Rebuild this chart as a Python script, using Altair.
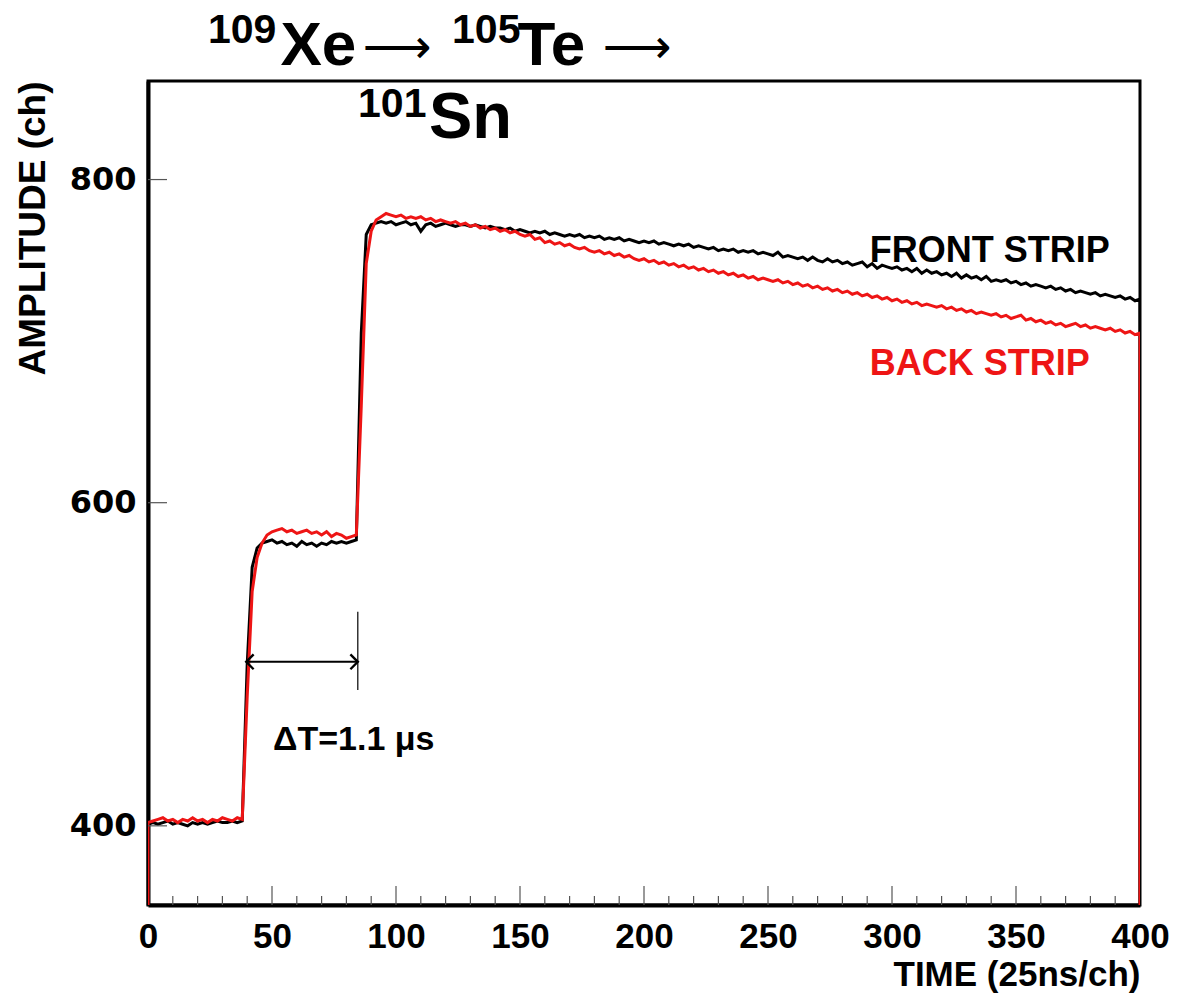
import altair as alt
import pandas as pd

# ---------------- data ----------------
Y_DOMAIN = [351, 861]
X_DOMAIN = [0, 400]

# channel numbers for the traces
TIME_CH = [0, 0] + list(range(2, 401, 2)) + [400]

FRONT_VALUES = (
    [345, 401]
    # t 2..38
    + [402, 401, 402, 403, 401, 402, 401, 400, 402, 401, 402, 401, 402, 403, 402, 402, 403, 402, 403]
    # t 40..46 (first step)
    + [500, 560, 572, 575]
    # t 48..84
    + [576, 577, 575, 576, 574, 575, 573, 576, 574, 575, 573, 575, 574, 576, 575, 576, 575, 576, 577]
    # t 86..88 (second step)
    + [705, 766]
    # t 90..140
    + [772, 773, 774, 773, 774, 772, 773, 774, 772, 773, 768, 772, 773, 771, 772, 773, 772, 771, 772, 772,
       771, 772, 771, 770, 771, 770]
    # t 142..400
    + [770, 769, 770, 768, 769, 768, 767, 768, 767, 768,
       766, 767, 766, 765, 766, 765, 766, 764, 765, 764,
       765, 763, 764, 763, 764, 762, 763, 762, 761, 762,
       761, 762, 760, 761, 760, 759, 760, 759, 760, 758,
       759, 758, 757, 758, 756, 757, 756, 757, 755, 756,
       755, 756, 754, 755, 754, 753, 755, 752, 753, 752,
       751, 752, 750, 752, 750, 749, 751, 749, 750, 748,
       749, 747, 748, 749, 746, 748, 745, 747, 746, 745,
       746, 744, 745, 743, 745, 742, 744, 742, 743, 741,
       742, 740, 742, 739, 741, 739, 740, 738, 740, 737,
       738, 737, 738, 736, 737, 735, 736, 734, 735, 734,
       733, 734, 732, 733, 731, 732, 730, 731, 730, 729,
       730, 728, 729, 728, 727, 728, 726, 727, 725, 726]
    + [340]
)

BACK_VALUES = (
    [345, 402]
    # t 2..38
    + [403, 404, 405, 403, 404, 402, 404, 403, 405, 403, 404, 402, 404, 403, 405, 404, 403, 405, 404]
    # t 40..46
    + [480, 545, 566, 575]
    # t 48..84
    + [580, 582, 583, 584, 582, 583, 581, 582, 583, 581, 582, 580, 582, 579, 581, 580, 578, 579, 580]
    # t 86..92
    + [660, 748, 768, 775]
    # t 94..140
    + [777, 779, 778, 777, 778, 776, 777, 776, 777, 775, 776, 774, 775, 774, 773, 774, 772, 773, 771, 772,
       770, 771, 769, 770]
    # t 142..400
    + [768, 769, 767, 768, 766, 765, 766, 763, 764, 761,
       762, 760, 761, 759, 760, 758, 757, 758, 756, 755,
       756, 754, 755, 753, 754, 752, 753, 751, 750, 751,
       749, 750, 748, 749, 747, 748, 746, 747, 745, 746,
       744, 745, 743, 744, 742, 743, 741, 742, 740, 741,
       739, 740, 738, 739, 738, 737, 738, 736, 737, 735,
       736, 734, 735, 733, 734, 732, 733, 731, 732, 730,
       731, 729, 730, 728, 729, 727, 728, 726, 727, 725,
       726, 724, 725, 723, 724, 722, 723, 722, 721, 722,
       720, 721, 719, 720, 718, 719, 717, 718, 717, 716,
       717, 715, 716, 714, 715, 716, 713, 714, 712, 713,
       711, 712, 710, 711, 709, 710, 711, 709, 710, 708,
       709, 708, 707, 708, 706, 707, 705, 706, 704, 705]
    + [340]
)

assert len(FRONT_VALUES) == len(TIME_CH), (len(FRONT_VALUES), len(TIME_CH))
assert len(BACK_VALUES) == len(TIME_CH), (len(BACK_VALUES), len(TIME_CH))

X_LABEL_VALUES = [0, 50, 100, 150, 200, 250, 300, 350, 400]
Y_LABEL_VALUES = [400, 600, 800]
X_MAJOR_TICKS = [50, 100, 150, 200, 250, 300, 350]
X_MINOR_TICKS = [t for t in range(10, 400, 10) if t % 50 != 0]

# annotation texts (positions in data units)
TITLE_BIG = [
    {"text": "Xe", "x": 53.4, "y": 870.9},
    {"text": "Te", "x": 149.0, "y": 870.9},
]
TITLE_SN = [
    {"text": "Sn", "x": 113.3, "y": 825.7},
]
TITLE_SUP = [
    {"text": "109", "x": 24.2, "y": 884.5},
    {"text": "105", "x": 122.6, "y": 884.5},
    {"text": "101", "x": 84.7, "y": 838.7},
]
TITLE_ARROWS = [
    {"text": "\u27f6", "x": 86.5, "y": 872.0},
    {"text": "\u27f6", "x": 183.3, "y": 872.0},
]
FRONT_LABEL = {"text": "FRONT STRIP", "x": 291.0, "y": 749.0}
BACK_LABEL = {"text": "BACK STRIP", "x": 291.0, "y": 679.0}
DT_LABEL = {"text": "\u0394T=1.1 \u03bcs", "x": 50.4, "y": 447.0}
ARROW = {"x1": 39.6, "x2": 84.6, "y": 501.5, "vy1": 484.0, "vy2": 532.5}

RED = "#ee1515"

# ---------------- chart ----------------
xs = alt.Scale(domain=X_DOMAIN, nice=False, zero=False)
ys = alt.Scale(domain=Y_DOMAIN, nice=False, zero=False)

df_front = pd.DataFrame({"t": TIME_CH, "v": FRONT_VALUES})
df_back = pd.DataFrame({"t": TIME_CH, "v": BACK_VALUES})

x_axis = alt.Axis(
    values=X_LABEL_VALUES, title="TIME (25ns/ch)", titleAnchor="end",
    labelFont="Liberation Sans", labelFontWeight="bold", labelFontSize=35, labelColor="black",
    titleFont="Liberation Sans", titleFontWeight="bold", titleFontSize=35, titleColor="black",
    ticks=False, domainColor="black", domainWidth=4, grid=False,
    labelPadding=14, titlePadding=3, labelFlush=False, labelOverlap=False,
)
y_axis = alt.Axis(
    values=Y_LABEL_VALUES, title="AMPLITUDE (ch)", titleAnchor="end",
    labelFont="DejaVu Sans", labelFontWeight="bold", labelFontSize=32, labelColor="black",
    titleFont="Liberation Sans", titleFontWeight="bold", titleFontSize=37, titleColor="black",
    ticks=False, domainColor="black", domainWidth=4, grid=False,
    labelPadding=12, titlePadding=17, labelFlush=False, labelOverlap=False,
)

front = alt.Chart(df_front).mark_line(color="black", strokeWidth=3, clip=True).encode(
    x=alt.X("t:Q", scale=xs, axis=x_axis),
    y=alt.Y("v:Q", scale=ys, axis=y_axis),
)
back = alt.Chart(df_back).mark_line(color=RED, strokeWidth=3, clip=True).encode(
    x=alt.X("t:Q", scale=xs),
    y=alt.Y("v:Q", scale=ys),
)

H = 824
major_x = alt.Chart(pd.DataFrame({"t": X_MAJOR_TICKS})).mark_rule(color="#555555", strokeWidth=1.2).encode(
    x=alt.X("t:Q", scale=xs), y=alt.value(H), y2=alt.value(H - 19)
)
minor_x = alt.Chart(pd.DataFrame({"t": X_MINOR_TICKS})).mark_rule(color="#555555", strokeWidth=1.2).encode(
    x=alt.X("t:Q", scale=xs), y=alt.value(H), y2=alt.value(H - 9)
)
major_y = alt.Chart(pd.DataFrame({"v": Y_LABEL_VALUES})).mark_rule(color="#555555", strokeWidth=1.2).encode(
    y=alt.Y("v:Q", scale=ys), x=alt.value(0), x2=alt.value(19)
)


def text_layer(records, size, color="black", font="Liberation Sans", weight="bold"):
    return alt.Chart(pd.DataFrame(records)).mark_text(
        font=font, fontWeight=weight, fontSize=size, align="left", baseline="alphabetic", color=color
    ).encode(x=alt.X("x:Q", scale=xs), y=alt.Y("y:Q", scale=ys), text="text:N")


title_big = text_layer(TITLE_BIG, 62)
title_sn = text_layer(TITLE_SN, 65)
title_sup = text_layer(TITLE_SUP, 41)
title_arr = text_layer(TITLE_ARROWS, 48, font="DejaVu Sans", weight="normal")
front_lbl = text_layer([FRONT_LABEL], 36)
back_lbl = text_layer([BACK_LABEL], 36, color=RED)
dt_lbl = text_layer([DT_LABEL], 34)

arrow_df = pd.DataFrame([ARROW])
arrow_h = alt.Chart(arrow_df).mark_rule(color="black", strokeWidth=2).encode(
    x=alt.X("x1:Q", scale=xs), x2="x2:Q", y=alt.Y("y:Q", scale=ys)
)
arrow_v = alt.Chart(arrow_df).mark_rule(color="black", strokeWidth=1.2).encode(
    x=alt.X("x2:Q", scale=xs), y=alt.Y("vy1:Q", scale=ys), y2="vy2:Q"
)
head_r = alt.Chart(arrow_df).mark_point(
    shape="M-1,-1L0,0L-1,1", filled=False, color="black", strokeWidth=2.4, size=220, opacity=1
).encode(x=alt.X("x2:Q", scale=xs), y=alt.Y("y:Q", scale=ys))
head_l = alt.Chart(arrow_df).mark_point(
    shape="M1,-1L0,0L1,1", filled=False, color="black", strokeWidth=2.4, size=220, opacity=1
).encode(x=alt.X("x1:Q", scale=xs), y=alt.Y("y:Q", scale=ys))

chart = alt.layer(
    front, back, major_x, minor_x, major_y,
    arrow_h, arrow_v, head_r, head_l,
    front_lbl, back_lbl, dt_lbl, title_big, title_sn, title_sup, title_arr,
).properties(
    width=992, height=824,
    autosize=alt.AutoSizeParams(type="none"),
    padding={"left": 148, "top": 81, "right": 32, "bottom": 90},
    background="white",
).configure_view(stroke="black", strokeWidth=3)

chart.save("out.html", embed_options={"renderer": "svg", "actions": False})
